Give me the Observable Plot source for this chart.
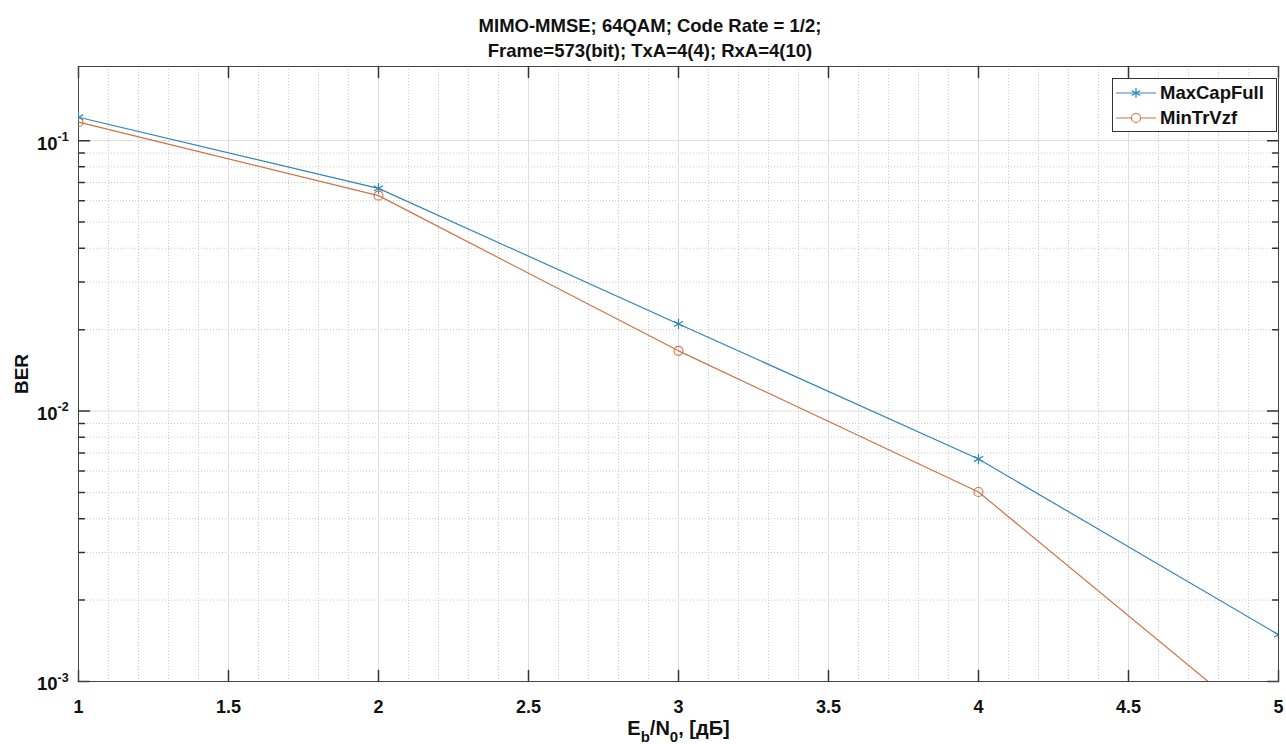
<!DOCTYPE html>
<html>
<head>
<meta charset="utf-8">
<script src="https://cdn.jsdelivr.net/npm/d3@7"></script>
<script src="https://cdn.jsdelivr.net/npm/@observablehq/plot@0.6"></script>
<style>
  html, body { margin: 0; padding: 0; background: #fff; }
  #fig { position: relative; width: 1286px; height: 744px; font-family: "Liberation Sans", Arial, sans-serif; }
  #title { position: absolute; left: 0; top: 0; width: 1300px; height: 60px; text-align: center; font-weight: bold; font-size: 18.5px; line-height: 25px; padding-top: 13px; box-sizing: border-box; color: #111; z-index: 2; pointer-events: none; }
  #chart { position: absolute; left: 0; top: 56px; z-index: 1; }
  #legend { position: absolute; left: 1112px; top: 78px; width: 165px; height: 54px; border: 1px solid #333; background: #fff; box-sizing: border-box; font-weight: bold; font-size: 18.5px; color: #111; z-index: 3; }
  #legend .row { position: absolute; left: 0; height: 25px; display: flex; align-items: center; }
  #legend svg { display: block; }
</style>
</head>
<body>
<div id="fig">
  <div id="title">MIMO-MMSE; 64QAM; Code Rate = 1/2;<br>Frame=573(bit); TxA=4(4); RxA=4(10)</div>
  <div id="chart"></div>
  <div id="legend"></div>
</div>
<script>
// ---- data ----
const ebn0 = [1, 2, 3, 4, 5];
const maxCapFull = [0.122, 0.0666, 0.0210, 0.00665, 0.00149];
const minTrVzf = [0.117, 0.0626, 0.0167, 0.00502, 0.00061];
const seriesNames = ["MaxCapFull", "MinTrVzf"];
const seriesColors = ["#2e86b8", "#cc7346"];
const xTicks = [1, 1.5, 2, 2.5, 3, 3.5, 4, 4.5, 5];
const xTickLabels = ["1", "1.5", "2", "2.5", "3", "3.5", "4", "4.5", "5"];
const yTicks = [1e-1, 1e-2, 1e-3];
const yTickExps = ["-1", "-2", "-3"];
const yDomain = [1e-3, 0.188];
const xLabelText = "E_b/N_0, [дБ]";
const yLabelText = "BER";

// grid helpers
const xMinor = d3.range(11, 50).map(v => v / 10).filter(v => Math.abs(v * 2 - Math.round(v * 2)) > 1e-9);
const yMinor = [];
for (const dec of [1e-3, 1e-2, 1e-1]) for (let k = 2; k <= 9; k++) { const v = k * dec; if (v <= yDomain[1]) yMinor.push(v); }

const table = [];
ebn0.forEach((x, i) => {
  table.push({x, y: maxCapFull[i], s: seriesNames[0]});
  table.push({x, y: minTrVzf[i], s: seriesNames[1]});
});

const tickShape = { draw(ctx, l) { ctx.moveTo(0, 0); ctx.lineTo(0, -l); } };
const font = {fontFamily: "Liberation Sans, Arial, sans-serif", fontWeight: "bold", fill: "#111"};

const plot = Plot.plot({
  width: 1286,
  height: 688,
  marginTop: 10,
  marginBottom: 63,
  marginLeft: 78,
  marginRight: 8,
  style: {background: "transparent", fontFamily: "Liberation Sans, Arial, sans-serif"},
  x: {domain: [1, 5], axis: null},
  y: {type: "log", domain: yDomain, axis: null},
  color: {domain: seriesNames, range: seriesColors},
  marks: [
    Plot.ruleX(xMinor, {x: d => d, stroke: "#bdbdbd", strokeDasharray: "1,2", strokeWidth: 0.8}),
    Plot.ruleY(yMinor, {y: d => d, stroke: "#bdbdbd", strokeDasharray: "1,2", strokeWidth: 0.8}),
    Plot.ruleX(xTicks, {x: d => d, stroke: "#dedede", strokeWidth: 1}),
    Plot.ruleY(yTicks, {y: d => d, stroke: "#dedede", strokeWidth: 1}),
    // inward ticks
    Plot.vector(xTicks, {x: d => d, frameAnchor: "bottom", length: 11, rotate: 0, anchor: "start", shape: tickShape, stroke: "#333"}),
    Plot.vector(xTicks, {x: d => d, frameAnchor: "top", length: 11, rotate: 180, anchor: "start", shape: tickShape, stroke: "#333"}),
    Plot.vector(yTicks, {y: d => d, frameAnchor: "left", length: 11, rotate: 90, anchor: "start", shape: tickShape, stroke: "#333"}),
    Plot.vector(yTicks, {y: d => d, frameAnchor: "right", length: 11, rotate: -90, anchor: "start", shape: tickShape, stroke: "#333"}),
    Plot.vector(yMinor, {y: d => d, frameAnchor: "left", length: 6, rotate: 90, anchor: "start", shape: tickShape, stroke: "#333"}),
    Plot.vector(yMinor, {y: d => d, frameAnchor: "right", length: 6, rotate: -90, anchor: "start", shape: tickShape, stroke: "#333"}),
    Plot.frame({stroke: "#444", strokeWidth: 1}),
    // x tick labels
    Plot.text(xTicks, {x: d => d, text: (d, i) => xTickLabels[i], frameAnchor: "bottom", dy: 31, fontSize: 18, ...font}),
    // y tick labels: 10 with superscript exponent
    Plot.text(yTicks, {y: d => d, text: () => "10", frameAnchor: "left", textAnchor: "end", dx: -21, dy: 3, fontSize: 18.5, ...font}),
    Plot.text(yTicks, {y: d => d, text: (d, i) => yTickExps[i], frameAnchor: "left", textAnchor: "start", dx: -21, dy: -4, fontSize: 12.5, ...font}),
    // axis labels
    Plot.text([yLabelText], {text: d => d, frameAnchor: "left", textAnchor: "middle", rotate: -90, dx: -57, fontSize: 19, ...font}),
    Plot.text([xLabelText], {text: d => d, frameAnchor: "bottom", textAnchor: "middle", dy: 53, fontSize: 20, ...font}),
    // data
    Plot.line(table, {x: "x", y: "y", z: "s", stroke: "s", strokeWidth: 1.2, clip: true}),
    Plot.dot(table.filter(d => d.s === seriesNames[0]), {x: "x", y: "y", symbol: "asterisk", r: 5, stroke: "s", strokeWidth: 1.2, clip: true}),
    Plot.dot(table.filter(d => d.s === seriesNames[1]), {x: "x", y: "y", symbol: "circle", r: 4.5, stroke: "s", fill: "none", strokeWidth: 1.1, clip: true})
  ]
});
document.getElementById("chart").appendChild(plot);

// x label with subscripts
d3.select(plot).selectAll("text").filter(function() { return this.textContent === xLabelText; }).each(function() {
  const xl = d3.select(this);
  xl.text(null);
  xl.append("tspan").text("E");
  xl.append("tspan").attr("dy", 7).attr("font-size", 15).text("b");
  xl.append("tspan").attr("dy", -7).text("/N");
  xl.append("tspan").attr("dy", 7).attr("font-size", 15).text("0");
  xl.append("tspan").attr("dy", -7).text(", [дБ]");
});

// legend
const lg = d3.select("#legend");
seriesNames.forEach((name, i) => {
  const row = lg.append("div").attr("class", "row").style("top", (i === 0 ? 1 : 26) + "px");
  const s = row.append("svg").attr("width", 46).attr("height", 20);
  s.append("line").attr("x1", 3).attr("x2", 43).attr("y1", 10).attr("y2", 10).attr("stroke", seriesColors[i]).attr("stroke-width", 1.2);
  if (i === 0) {
    s.append("path").attr("d", d3.symbol(d3.symbolAsterisk, 70)()).attr("transform", "translate(23,10)").attr("stroke", seriesColors[i]).attr("stroke-width", 1.2).attr("fill", "none");
  } else {
    s.append("circle").attr("cx", 23).attr("cy", 10).attr("r", 4.5).attr("stroke", seriesColors[i]).attr("fill", "#fff").attr("stroke-width", 1.1);
  }
  row.append("span").style("margin-left", "1px").text(name);
});
</script>
</body>
</html>
